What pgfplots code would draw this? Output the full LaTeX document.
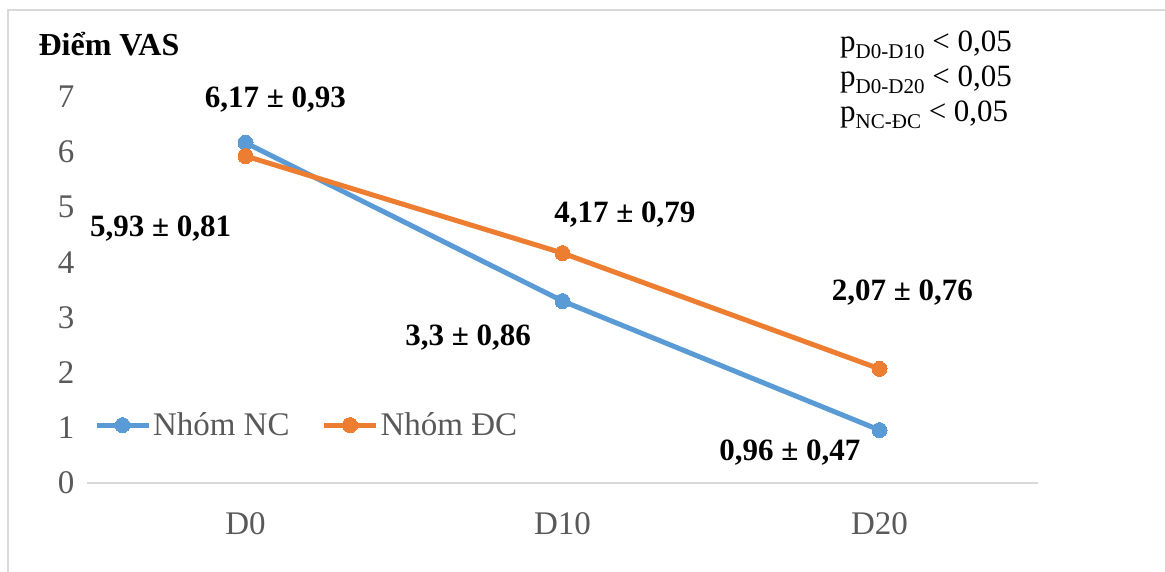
\documentclass[border=0pt]{standalone}
\usepackage{pgfplots}
\pgfplotsset{compat=1.18}
\usepackage{fontspec}
\setmainfont{Liberation Serif}

\definecolor{ncblue}{HTML}{5B9BD5}
\definecolor{dcorange}{HTML}{ED7D31}
\definecolor{axisgray}{HTML}{D9D9D9}
\definecolor{labelgray}{HTML}{595959}

\newcommand\bigfont{\fontsize{31}{37}\selectfont}
\newcommand\tickfont{\fontsize{33}{39}\selectfont}
\newcommand\lbl{\bfseries\fontsize{31}{37}\selectfont}
\newcommand\sub[1]{\raisebox{-0.22em}{\fontsize{21}{21}\selectfont #1}}

\begin{document}
\begin{tikzpicture}[x=1pt,y=1pt]
\begin{axis}[
  scale only axis,
  width=951pt, height=386pt,
  xmin=-0.5, xmax=2.5, ymin=0, ymax=7,
  xtick={0,1,2}, xticklabels={D0,D10,D20},
  ytick={0,1,...,7},
  axis lines*=left,
  x axis line style={-, draw=axisgray, line width=1.3pt},
  y axis line style={draw=none},
  major tick length=0pt,
  tick label style={font=\tickfont, text=labelgray},
  /pgf/number format/assume math mode=true,
  xticklabel style={yshift=-26pt},
  yticklabel style={xshift=-9pt},
  legend style={at={(0.004,0.150)}, anchor=west, draw=none, fill=none,
    font=\tickfont, text=labelgray,
    /tikz/every even column/.append style={column sep=30pt},
    nodes={inner sep=2pt}},
  legend columns=2,
  legend cell align=left,
  legend image code/.code={\draw[mark repeat=2, mark phase=2, #1]
    plot coordinates {(0pt,0pt) (26pt,0pt) (52pt,0pt)};},
  clip=false,
]
\addplot[ncblue, line width=5pt, mark=*, mark size=7.5pt,
  mark options={solid, fill=ncblue, draw=ncblue, line width=0pt}]
  coordinates {(0,6.17) (1,3.3) (2,0.96)};
\addlegendentry{Nhóm NC}
\addplot[dcorange, line width=5pt, mark=*, mark size=7.5pt,
  mark options={solid, fill=dcorange, draw=dcorange, line width=0pt}]
  coordinates {(0,5.93) (1,4.17) (2,2.07)};
\addlegendentry{Nhóm ĐC}

% mean ± SD labels
\node[font=\lbl] at (axis cs:0.094,6.95) {6,17 ± 0,93};
\node[font=\lbl] at (axis cs:-0.268,4.62) {5,93 ± 0,81};
\node[font=\lbl] at (axis cs:1.197,4.86) {4,17 ± 0,79};
\node[font=\lbl] at (axis cs:0.702,2.63) {3,3 ± 0,86};
\node[font=\lbl] at (axis cs:2.072,3.45) {2,07 ± 0,76};
\node[font=\lbl] at (axis cs:1.717,0.56) {0,96 ± 0,47};
\end{axis}

% outer frame
\draw[axisgray, line width=1.5pt] (-79,-90) -- (-79,473) -- (1080,473);

% title
\node[font=\bfseries\fontsize{32}{38}\selectfont, anchor=center] at (22,439) {Điểm VAS};

% significance notes
\node[anchor=north west, align=left, inner sep=0pt, font=\bigfont]
  at (753,452) {p\sub{D0-D10} < 0,05\\[-2pt] p\sub{D0-D20} < 0,05\\[-2pt] p\sub{NC-ĐC} < 0,05};

\pgfresetboundingbox
\path (-87,-88) rectangle (1078,483);
\end{tikzpicture}
\end{document}
